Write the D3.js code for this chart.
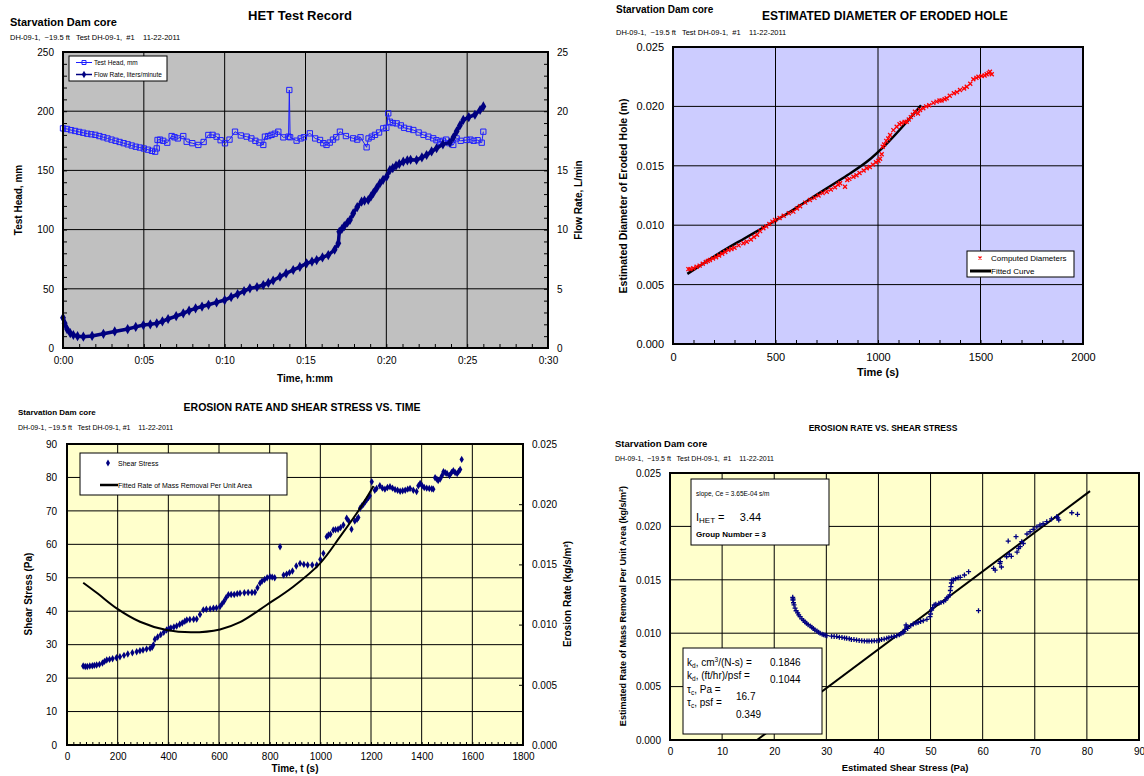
<!DOCTYPE html>
<html><head><meta charset="utf-8">
<script src="https://cdn.jsdelivr.net/npm/d3@7"></script>
<style>body{margin:0;background:#fff} svg{display:block} text{font-family:Arial,"Liberation Sans",sans-serif;white-space:pre}</style>
</head><body><svg id="c" width="1144" height="776"></svg>
<script>
// ---------- Panel 1: HET Test Record ----------
const headTime = [0,0.25,0.5,0.75,1,1.25,1.5,1.75,2,2.25,2.5,2.75,3,3.25,3.5,3.75,4,4.25,4.5,4.75,5,5.25,5.5,5.7,5.8,5.85,6.0,6.2,6.45,6.72,6.9,7.1,7.44,7.65,8.0,8.37,8.7,8.99,9.25,9.5,9.75,10.02,10.3,10.64,11.0,11.36,11.65,11.9,12.15,12.39,12.49,12.7,12.9,13.1,13.32,13.63,13.95,14.0,14.05,14.45,14.7,14.9,15.27,15.6,15.9,16.1,16.3,16.5,16.7,16.9,17.13,17.5,17.95,18.2,18.4,18.78,18.9,19.1,19.3,19.55,19.81,20.0,20.12,20.22,20.4,20.64,20.9,21.1,21.4,21.67,22.0,22.3,22.6,22.9,23.1,23.32,23.5,23.7,23.9,24.14,24.35,24.6,24.97,25.2,25.4,25.65,25.9,26.0];
const headVal  = [185.5,185,184,183.3,182.5,181.8,181,180.5,180,179,178,177,176,175,174,173,172,171,170,169.3,168.5,167.5,166.5,165.8,168.6,175.7,176,175,173.4,179,178,177,179,174.2,173,171.5,174,179.9,180,178.5,175.5,172.9,176,182.7,179.5,178.5,177,175,173.5,171.5,178.5,179,180,181,182.7,177.9,178.5,217.9,178,175.1,177,178,181.3,177,175.7,173,171.5,173.5,176,178,182.7,179,177.1,176,178,169.5,177,178.5,180,182,185.5,186,198.2,191.1,190,189.7,188,186,185,184.1,182,180,178.5,177.1,175.5,174.2,175,176,173,171.5,177,175,175.7,176,175,175.5,173.4,182.7];
const flowTime = [0,0.1,0.25,0.45,0.64,0.9,1.26,1.8,2.5,3.2,4.0,4.5,4.97,5.4,5.8,6.15,6.5,7.0,7.44,7.8,8.2,8.6,9.0,9.5,10.0,10.4,10.8,11.2,11.56,12.0,12.39,12.7,13.0,13.42,13.8,14.24,14.65,15.07,15.4,15.69,16.05,16.41,16.8,17.03,17.09,17.25,17.4,17.6,17.75,17.95,18.2,18.47,18.65,18.88,19.05,19.2,19.4,19.6,19.8,20.02,20.22,20.4,20.6,20.8,21.05,21.3,21.5,21.87,22.2,22.49,22.8,23.11,23.5,23.93,24.15,24.35,24.55,24.76,25.1,25.48,25.8,26.0];
const flowVal  = [2.56,2.1,1.6,1.25,1.1,1.0,0.96,1.02,1.2,1.4,1.6,1.78,1.94,2.0,2.08,2.25,2.45,2.7,2.93,3.15,3.35,3.5,3.65,3.85,4.05,4.3,4.55,4.8,5.04,5.15,5.32,5.5,5.7,6.02,6.3,6.59,6.85,7.15,7.3,7.43,7.65,7.85,8.3,8.84,9.82,10.05,10.3,10.6,10.81,11.37,11.9,12.36,12.45,12.5,12.8,13.1,13.5,13.9,14.2,14.47,15.03,15.2,15.4,15.55,15.74,15.85,15.9,15.88,16.1,16.3,16.6,16.87,17.2,17.35,17.8,18.3,18.8,19.26,19.5,19.7,20.1,20.4];
const p1TimeTicks = [0,5,10,15,20,25,30];
const p1HeadTicks = [0,50,100,150,200,250];
const p1FlowTicks = [0,5,10,15,20,25];

// ---------- Panel 2: Estimated diameter ----------
const diaTime = [75,85,99,115,130,145,160,170,180,195,210,225,240,255,270,285,300,320,343,360,380,395,410,425,441,455,470,485,498,520,540,565,587,605,620,645,668,690,710,730,750,770,790,805,815,839,850,860,880,895,910,930,945,960,975,990,1002,1010,1018,1023,1030,1040,1050,1059,1075,1091,1105,1115,1130,1140,1150,1160,1170,1180,1195,1205,1221,1235,1250,1270,1286,1300,1310,1325,1335,1350,1370,1385,1400,1420,1433,1450,1465,1480,1490,1506,1520,1530,1540,1546,1555];
const diaVal  = [0.0063,0.0063,0.00637,0.0065,0.0066,0.00675,0.0069,0.007,0.00707,0.0072,0.0073,0.00745,0.0076,0.00775,0.0079,0.008,0.0081,0.0083,0.00848,0.0086,0.0088,0.009,0.0092,0.0095,0.00974,0.0099,0.0101,0.0103,0.01044,0.0106,0.0108,0.011,0.01114,0.0114,0.0116,0.0119,0.01212,0.0123,0.0125,0.0127,0.01282,0.013,0.0132,0.0134,0.01353,0.01324,0.0138,0.0139,0.01408,0.0142,0.0144,0.0146,0.01479,0.0149,0.0151,0.0153,0.01543,0.0156,0.01597,0.0166,0.0168,0.0171,0.0173,0.01759,0.018,0.01829,0.0185,0.0186,0.0187,0.01871,0.0189,0.0191,0.0193,0.01955,0.0194,0.0197,0.01984,0.02,0.0201,0.0203,0.0204,0.0205,0.0205,0.0206,0.02068,0.0209,0.0211,0.0212,0.02138,0.0215,0.02166,0.0219,0.02228,0.0224,0.0225,0.02256,0.0226,0.0227,0.0228,0.02292,0.0227];
const fitDiaTime = [70,150,250,350,450,550,650,750,850,950,1050,1130,1210];
const fitDiaVal  = [0.0059,0.0068,0.0079,0.0089,0.0099,0.0109,0.0120,0.0131,0.0142,0.0154,0.0170,0.0185,0.0201];
const p2TimeTicks = [0,500,1000,1500,2000];
const p2DiaTicks = [0,0.005,0.01,0.015,0.02,0.025];

// ---------- Panel 3: Erosion rate & shear stress vs time ----------
const shearTime = [64,72,80,90,100,108,117,128,140,148,157,168,180,195,209,225,240,258,275,288,300,314,328,336,341,347,358,370,382,393,402,410,422,433,445,455,465,473,485,500,512,525,538,550,565,578,590,604,612,620,628,637,648,660,672,683,700,715,730,742,752,762,770,780,790,801,810,820,841,855,867,878,890,905,920,935,950,968,986,1000,1012,1025,1032,1040,1051,1060,1070,1080,1091,1104,1112,1123,1136,1145,1150,1157,1164,1170,1177,1183,1190,1195,1203,1215,1222,1235,1245,1255,1265,1275,1285,1295,1305,1315,1325,1335,1345,1354,1367,1380,1387,1394,1402,1410,1420,1430,1440,1446,1453,1460,1465,1473,1480,1486,1493,1500,1510,1518,1525,1532,1540,1546,1552,1558];
const shearVal  = [23.6,23.5,23.5,23.6,23.7,23.8,23.9,24.1,24.5,25.0,25.4,25.6,25.8,26.1,26.4,26.8,27.2,27.6,27.9,28.2,28.4,28.7,28.9,29.2,29.9,31.6,32.3,33,33.7,34.4,34.8,35,35.3,35.6,36.1,36.5,37.0,37.4,37.5,37.6,37.7,39,40.4,40.6,40.7,40.9,41.0,41.4,42.2,43,44,44.9,45,45,45.2,45.4,45.5,45.6,45.6,45.7,47,48.4,49,49.5,50,50.3,50.2,50,59.3,50.8,51.1,51.5,52,53.5,54.3,54,53.8,53.8,53.8,55.5,57.3,62.3,62.8,63,64.3,64.4,64.5,65,65.8,67.8,67,64.5,67,67.5,68,70.8,71.5,72,72.7,73.3,74,74.5,78.7,76.2,76.7,77.5,76.8,76.5,77,77.2,76.8,76.4,76.2,75.9,76,76.2,76.5,76.7,76.2,75.8,77.5,78.2,77.5,77,76.8,76.7,76.6,76.5,79.9,79.5,79.1,79.5,80.5,81.7,81.4,81.2,80.6,81.5,82.0,81.5,81.2,81.8,82.4,85.4];
const fitRateTime = [64,120,196,288,393,492,604,683,788,893,999,1078,1157,1210];
const fitRateVal  = [0.01348,0.0126,0.01135,0.01024,0.00955,0.00936,0.0096,0.0102,0.01163,0.01315,0.01509,0.0173,0.01966,0.02151];
const p3TimeTicks = [0,200,400,600,800,1000,1200,1400,1600,1800];
const p3ShearTicks = [0,10,20,30,40,50,60,70,80,90];
const p3RateTicks = [0,0.005,0.01,0.015,0.02,0.025];

// ---------- Panel 4: Erosion rate vs shear stress ----------
const ersStress = [23.55,23.6,23.6,23.7,23.8,24.0,24.2,24.5,24.7,24.95,25.3,25.6,25.9,26.2,26.5,26.9,27.2,27.5,27.8,28.2,28.5,28.8,29.2,29.5,29.8,30.1,31.0,31.5,32.0,32.5,33.0,33.5,33.9,34.4,34.8,35.3,35.8,36.3,36.8,37.3,37.8,38.2,38.7,39.2,39.7,40.2,40.6,41.1,41.6,42.0,42.5,43.0,43.5,44.0,44.3,44.7,44.9,45.1,45.3,45.4,45.6,46.2,46.7,47.2,47.6,48.1,48.6,49.3,49.9,50.0,50.2,50.4,50.7,51.0,51.6,52.0,52.5,52.9,53.1,53.4,53.7,53.8,53.9,54.0,54.1,54.4,54.8,55.3,55.7,56.5,57.3,59.2,62.1,62.4,63.3,63.6,63.4,64.6,64.9,65.1,65.5,66.4,66.6,66.9,67.2,67.5,67.8,68.5,69.1,69.7,70.4,71.0,71.6,72.3,73.2,74.2,74.4,74.6,77.1,78.2];
const ersRate   = [0.01336,0.0132,0.0131,0.01285,0.01265,0.01235,0.0121,0.0119,0.01172,0.01155,0.01135,0.0112,0.01105,0.01092,0.0108,0.01068,0.01055,0.01045,0.0103,0.0102,0.0101,0.00999,0.0099,0.00985,0.0098,0.00977,0.00972,0.0097,0.00968,0.00962,0.0096,0.00955,0.00952,0.00948,0.00942,0.0094,0.00936,0.00932,0.0093,0.00928,0.00927,0.00926,0.00928,0.00929,0.0093,0.00935,0.0094,0.00945,0.00952,0.00958,0.00965,0.0097,0.00977,0.00985,0.00995,0.01005,0.01014,0.01035,0.01077,0.0106,0.01045,0.0107,0.01086,0.01095,0.011,0.0111,0.01117,0.0113,0.01155,0.0118,0.01217,0.0124,0.01264,0.0127,0.0128,0.01288,0.01295,0.0131,0.0133,0.0134,0.01358,0.014,0.01436,0.0147,0.01498,0.015,0.0151,0.0152,0.01523,0.01545,0.01576,0.01211,0.01607,0.0159,0.01654,0.0162,0.0167,0.01716,0.01863,0.0174,0.0172,0.01904,0.0176,0.01795,0.0181,0.01857,0.0184,0.01929,0.0195,0.01973,0.01995,0.02013,0.02025,0.02044,0.0207,0.02091,0.0208,0.0206,0.02128,0.02113];
const fitLineStress = [16.7,80.6];
const fitLineRate   = [0,0.0233];
const p4StressTicks = [0,10,20,30,40,50,60,70,80,90];
const p4RateTicks = [0,0.005,0.01,0.015,0.02,0.025];

const subtitle = "DH-09-1,  ~19.5 ft   Test DH-09-1,  #1    11-22-2011";
const F = 'Arial, "Liberation Sans", sans-serif';
const svg = d3.select("#c");

function text(g, x, y, s, o = {}) {
  return g.append("text").attr("x", x).attr("y", y).text(s)
    .attr("font-size", o.size || 10).attr("font-weight", o.bold ? "bold" : "normal")
    .attr("text-anchor", o.anchor || "start").attr("fill", "#000").attr("font-family", F);
}
function vtext(g, x, y, s, o = {}) {
  return g.append("text").attr("transform", `translate(${x},${y}) rotate(-90)`)
    .attr("text-anchor", "middle").attr("dy", "0.35em").text(s)
    .attr("font-size", o.size || 10).attr("font-weight", o.bold ? "bold" : "normal").attr("font-family", F);
}
function plotBg(g, x, y, bg, xg, yg) {
  const [x0, x1] = x.range(), [y0, y1] = y.range();
  g.append("rect").attr("x", x0).attr("y", y1).attr("width", x1 - x0).attr("height", y0 - y1).attr("fill", bg);
  g.append("g").selectAll("line").data(xg).join("line")
    .attr("x1", d => x(d)).attr("x2", d => x(d)).attr("y1", y1).attr("y2", y0).attr("stroke", "#000").attr("stroke-width", 1);
  g.append("g").selectAll("line").data(yg).join("line")
    .attr("y1", d => y(d)).attr("y2", d => y(d)).attr("x1", x0).attr("x2", x1).attr("stroke", "#000").attr("stroke-width", 1);
}
function border(g, x, y) {
  const [x0, x1] = x.range(), [y0, y1] = y.range();
  g.append("rect").attr("x", x0).attr("y", y1).attr("width", x1 - x0).attr("height", y0 - y1)
    .attr("fill", "none").attr("stroke", "#000").attr("stroke-width", 2);
}
function labels(g, axis, tx, ty, size) {
  const a = g.append("g").attr("transform", `translate(${tx},${ty})`).call(axis);
  a.select(".domain").remove();
  a.attr("font-family", F).attr("font-size", size);
  a.selectAll("text").attr("fill", "#000");
  return a;
}
function minor(g, axis, tx, ty) {
  const a = g.append("g").attr("transform", `translate(${tx},${ty})`).call(axis.tickFormat(""));
  a.select(".domain").remove();
  a.selectAll("line").attr("stroke", "#000").attr("stroke-width", 1);
}
const intFmt = d3.format("d");

// ================= Panel 1 =================
{
  const g = svg.append("g");
  const x = d3.scaleLinear([0, 30], [63, 548]);
  const yL = d3.scaleLinear([0, 250], [348, 52]);
  const yR = d3.scaleLinear([0, 25], [348, 52]);
  plotBg(g, x, yL, "#C0C0C0", p1TimeTicks.slice(1, -1), p1HeadTicks.slice(1, -1));
  minor(g, d3.axisLeft(yL).tickValues(d3.range(0, 251, 10)).tickSize(-4), 63, 0);
  minor(g, d3.axisRight(yR).tickValues(d3.range(0, 26, 1)).tickSize(-4), 548, 0);
  minor(g, d3.axisBottom(x).tickValues(d3.range(0, 31, 1)).tickSize(-4), 0, 348);
  labels(g, d3.axisLeft(yL).tickValues(p1HeadTicks).tickSize(0).tickPadding(9), 63, 0, 10);
  labels(g, d3.axisRight(yR).tickValues(p1FlowTicks).tickSize(0).tickPadding(9), 548, 0, 10);
  labels(g, d3.axisBottom(x).tickValues(p1TimeTicks).tickSize(0).tickPadding(9)
    .tickFormat(d => "0:" + String(d).padStart(2, "0")), 0, 348, 10);

  const head = headTime.map((t, i) => [t, headVal[i]]);
  const flow = flowTime.map((t, i) => [t, flowVal[i]]);
  g.append("path").datum(head).attr("fill", "none").attr("stroke", "#1F1FFF").attr("stroke-width", 1)
    .attr("d", d3.line(d => x(d[0]), d => yL(d[1])));
  g.append("g").selectAll("path").data(head).join("path")
    .attr("transform", d => `translate(${x(d[0])},${yL(d[1])})`)
    .attr("d", d3.symbol(d3.symbolSquare, 28)).attr("fill", "none").attr("stroke", "#1F1FFF").attr("stroke-width", 1);
  g.append("path").datum(flow).attr("fill", "none").attr("stroke", "#000080").attr("stroke-width", 3.5)
    .attr("d", d3.line(d => x(d[0]), d => yR(d[1])));
  g.append("g").selectAll("path").data(flow).join("path")
    .attr("transform", d => `translate(${x(d[0])},${yR(d[1])})`)
    .attr("d", d3.symbol(d3.symbolDiamond, 30)).attr("fill", "#000080");
  border(g, x, yL);

  const lg = g.append("g");
  lg.append("rect").attr("x", 69).attr("y", 56).attr("width", 98).attr("height", 25).attr("fill", "#fff").attr("stroke", "#000").attr("stroke-width", 1);
  lg.append("line").attr("x1", 76).attr("x2", 92).attr("y1", 62.5).attr("y2", 62.5).attr("stroke", "#1F1FFF");
  lg.append("path").attr("transform", "translate(84,62.5)").attr("d", d3.symbol(d3.symbolSquare, 16)).attr("fill", "none").attr("stroke", "#1F1FFF");
  text(lg, 94, 65, "Test Head, mm", { size: 6.5 });
  lg.append("line").attr("x1", 76).attr("x2", 92).attr("y1", 74.5).attr("y2", 74.5).attr("stroke", "#000080").attr("stroke-width", 1.5);
  lg.append("path").attr("transform", "translate(84,74.5)").attr("d", d3.symbol(d3.symbolDiamond, 16)).attr("fill", "#000080");
  text(lg, 94, 77, "Flow Rate, liters/minute", { size: 6.5 });

  text(g, 10, 26, "Starvation Dam core", { size: 11, bold: true });
  text(g, 10, 40, subtitle, { size: 7.5 });
  text(g, 300, 20, "HET Test Record", { size: 13, bold: true, anchor: "middle" });
  vtext(g, 18, 200, "Test Head, mm", { size: 10, bold: true });
  vtext(g, 578, 200, "Flow Rate, L/min", { size: 10, bold: true });
  text(g, 305, 382, "Time, h:mm", { size: 10, bold: true, anchor: "middle" });
}

// ================= Panel 2 =================
{
  const g = svg.append("g");
  const x = d3.scaleLinear([0, 2000], [673, 1083]);
  const y = d3.scaleLinear([0, 0.025], [344, 47]);
  plotBg(g, x, y, "#CCCCFF", p2TimeTicks.slice(1, -1), p2DiaTicks.slice(1, -1));
  minor(g, d3.axisBottom(x).tickValues(d3.range(0, 2001, 100)).tickSize(-4), 0, 344);
  labels(g, d3.axisLeft(y).tickValues(p2DiaTicks).tickSize(0).tickPadding(9).tickFormat(d3.format(".3f")), 673, 0, 11);
  labels(g, d3.axisBottom(x).tickValues(p2TimeTicks).tickSize(0).tickPadding(9).tickFormat(intFmt), 0, 344, 11);

  const fit = fitDiaTime.map((t, i) => [t, fitDiaVal[i]]);
  const pts = diaTime.map((t, i) => [t, diaVal[i]]);
  g.append("path").datum(fit).attr("fill", "none").attr("stroke", "#000").attr("stroke-width", 2.5)
    .attr("d", d3.line(d => x(d[0]), d => y(d[1])).curve(d3.curveCatmullRom));
  g.append("g").selectAll("path").data(pts).join("path")
    .attr("transform", d => `translate(${x(d[0])},${y(d[1])})`)
    .attr("d", "M-2,-2L2,2M-2,2L2,-2").attr("stroke", "#FF0000").attr("stroke-width", 1.3).attr("fill", "none");
  border(g, x, y);

  const lg = g.append("g");
  lg.append("rect").attr("x", 967).attr("y", 251).attr("width", 107).attr("height", 26).attr("fill", "#fff").attr("stroke", "#000");
  lg.append("path").attr("transform", "translate(980,258)").attr("d", "M-1.5,-1.5L1.5,1.5M-1.5,1.5L1.5,-1.5").attr("stroke", "#FF0000").attr("stroke-width", 1.2);
  text(lg, 991, 261, "Computed Diameters", { size: 8 });
  lg.append("line").attr("x1", 970).attr("x2", 991).attr("y1", 271).attr("y2", 271).attr("stroke", "#000").attr("stroke-width", 3);
  text(lg, 991, 274, "Fitted Curve", { size: 8 });

  text(g, 616, 13, "Starvation Dam core", { size: 10, bold: true });
  text(g, 616, 35, subtitle, { size: 7.5 });
  text(g, 885, 20, "ESTIMATED DIAMETER OF ERODED HOLE", { size: 12, bold: true, anchor: "middle" });
  vtext(g, 623, 196, "Estimated Diameter of Eroded Hole (m)", { size: 10.5, bold: true });
  text(g, 878, 376, "Time (s)", { size: 11, bold: true, anchor: "middle" });
}

// ================= Panel 3 =================
{
  const g = svg.append("g");
  const x = d3.scaleLinear([0, 1800], [67, 523]);
  const yL = d3.scaleLinear([0, 90], [745, 444]);
  const yR = d3.scaleLinear([0, 0.025], [745, 444]);
  plotBg(g, x, yL, "#FFFFCC", p3TimeTicks.slice(1, -1), p3ShearTicks.slice(1, -1));
  minor(g, d3.axisBottom(x).tickValues(d3.range(0, 1801, 25)).tickSize(-3), 0, 745);
  minor(g, d3.axisRight(yR).tickValues(p3RateTicks).tickSize(-4), 523, 0);
  labels(g, d3.axisLeft(yL).tickValues(p3ShearTicks).tickSize(0).tickPadding(10), 67, 0, 10);
  labels(g, d3.axisRight(yR).tickValues(p3RateTicks).tickSize(0).tickPadding(9).tickFormat(d3.format(".3f")), 523, 0, 10);
  labels(g, d3.axisBottom(x).tickValues(p3TimeTicks).tickSize(0).tickPadding(8).tickFormat(intFmt), 0, 745, 10);

  const fit = fitRateTime.map((t, i) => [t, fitRateVal[i]]);
  const pts = shearTime.map((t, i) => [t, shearVal[i]]);
  g.append("g").selectAll("path").data(pts).join("path")
    .attr("transform", d => `translate(${x(d[0])},${yL(d[1])})`)
    .attr("d", d3.symbol(d3.symbolDiamond, 16)).attr("fill", "#000080");
  g.append("path").datum(fit).attr("fill", "none").attr("stroke", "#000").attr("stroke-width", 2)
    .attr("d", d3.line(d => x(d[0]), d => yR(d[1])).curve(d3.curveCatmullRom));
  border(g, x, yL);

  const lg = g.append("g");
  lg.append("rect").attr("x", 80).attr("y", 453).attr("width", 207).attr("height", 42).attr("fill", "#fff").attr("stroke", "#000");
  lg.append("path").attr("transform", "translate(108,463)").attr("d", d3.symbol(d3.symbolDiamond, 14)).attr("fill", "#000080");
  text(lg, 118, 466, "Shear Stress", { size: 7 });
  lg.append("line").attr("x1", 100).attr("x2", 118).attr("y1", 485).attr("y2", 485).attr("stroke", "#000").attr("stroke-width", 2.5);
  text(lg, 118, 488, "Fitted Rate of Mass Removal Per Unit Area", { size: 7 });

  text(g, 18, 415, "Starvation Dam core", { size: 8, bold: true });
  text(g, 18, 430, "DH-09-1, ~19.5 ft   Test DH-09-1, #1    11-22-2011", { size: 7 });
  text(g, 302, 411, "EROSION RATE AND SHEAR STRESS VS. TIME", { size: 10.5, bold: true, anchor: "middle" });
  vtext(g, 28, 594, "Shear Stress (Pa)", { size: 10, bold: true });
  vtext(g, 567, 594, "Erosion Rate (kg/s/m²)", { size: 10, bold: true });
  text(g, 295, 772, "Time, t (s)", { size: 10, bold: true, anchor: "middle" });
}

// ================= Panel 4 =================
{
  const g = svg.append("g");
  const x = d3.scaleLinear([0, 90], [670, 1139]);
  const y = d3.scaleLinear([0, 0.025], [740, 473]);
  plotBg(g, x, y, "#FFFFCC", p4StressTicks.slice(1, -1), p4RateTicks.slice(1, -1));
  labels(g, d3.axisLeft(y).tickValues(p4RateTicks).tickSize(0).tickPadding(9).tickFormat(d3.format(".3f")), 670, 0, 10);
  labels(g, d3.axisBottom(x).tickValues(p4StressTicks).tickSize(0).tickPadding(8), 0, 740, 10);

  const line = fitLineStress.map((s, i) => [s, fitLineRate[i]]);
  const pts = ersStress.map((s, i) => [s, ersRate[i]]);
  g.append("path").datum(line).attr("fill", "none").attr("stroke", "#000").attr("stroke-width", 2)
    .attr("d", d3.line(d => x(d[0]), d => y(d[1])));
  g.append("g").selectAll("path").data(pts).join("path")
    .attr("transform", d => `translate(${x(d[0])},${y(d[1])})`)
    .attr("d", "M-2.5,0H2.5M0,-2.5V2.5").attr("stroke", "#000080").attr("stroke-width", 1.3);
  border(g, x, y);

  const b1 = g.append("g");
  b1.append("rect").attr("x", 691).attr("y", 479).attr("width", 138).attr("height", 66).attr("fill", "#fff").attr("stroke", "#000");
  text(b1, 696, 496, "slope, Ce = 3.65E-04 s/m", { size: 6.5 });
  const t1 = text(b1, 696, 521, "I", { size: 11 });
  t1.append("tspan").attr("font-size", 8).attr("dy", 2).text("HET");
  t1.append("tspan").attr("dy", -2).text(" =     3.44");
  text(b1, 696, 537, "Group Number = 3", { size: 8, bold: true });

  const b2 = g.append("g");
  b2.append("rect").attr("x", 683).attr("y", 648).attr("width", 139).attr("height", 86).attr("fill", "#fff").attr("stroke", "#000");
  function subLine(yy, main, sub, rest, sup, rest2) {
    const t = text(b2, 687, yy, main, { size: 10 });
    t.append("tspan").attr("font-size", 6.5).attr("dy", 2).text(sub);
    t.append("tspan").attr("dy", -2).text(rest);
    if (sup) {
      t.append("tspan").attr("font-size", 6.5).attr("dy", -4).text(sup);
      t.append("tspan").attr("dy", 4).text(rest2);
    }
  }
  subLine(666, "k", "d", ", cm", "3", "/(N-s) =");
  subLine(679, "k", "d", ", (ft/hr)/psf =");
  subLine(693, "τ", "c", ", Pa =");
  subLine(706, "τ", "c", ", psf =");
  text(b2, 770, 666, "0.1846", { size: 10 });
  text(b2, 770, 683, "0.1044", { size: 10 });
  text(b2, 736, 700, "16.7", { size: 10 });
  text(b2, 736, 718, "0.349", { size: 10 });

  text(g, 883, 431, "EROSION RATE VS. SHEAR STRESS", { size: 8.5, bold: true, anchor: "middle" });
  text(g, 615, 447, "Starvation Dam core", { size: 9.5, bold: true });
  text(g, 615, 461, subtitle, { size: 7 });
  vtext(g, 623, 606, "Estimated Rate of Mass Removal Per Unit Area (kg/s/m²)", { size: 9, bold: true });
  text(g, 905, 771, "Estimated Shear Stress (Pa)", { size: 9.5, bold: true, anchor: "middle" });
}
</script></body></html>
